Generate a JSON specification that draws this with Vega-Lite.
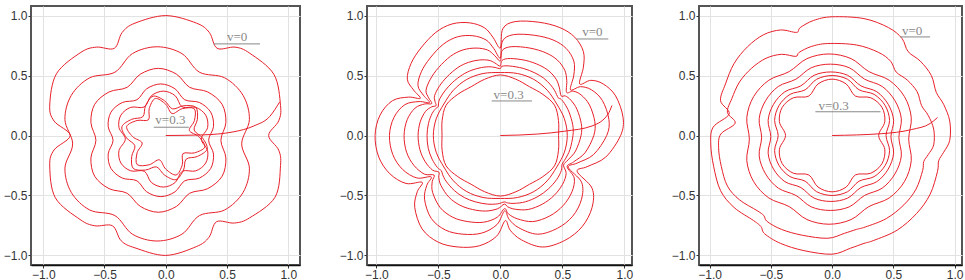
{
"$schema":"https://vega.github.io/schema/vega-lite/v6.json",
"padding":{"left":2,"top":5,"right":0,"bottom":0},
"background":"white",
"bounds":"flush",
"spacing":67,
"resolve":{"scale":{"x":"independent","y":"independent"}},
"config":{
"view":{"stroke":"#555","strokeWidth":2},
"axis":{"labelFont":"Liberation Sans","labelFontSize":12,"labelColor":"#333","tickColor":"#333","tickSize":3,"labelPadding":1,"gridColor":"#e2e2e2","gridWidth":1,"domain":false},
"axisY":{"minExtent":0,"maxExtent":25},
"axisX":{"domain":true,"domainColor":"#111","domainWidth":1.5}
},
"datasets":{
"rings":[
{"p":1,"k":"A","i":0,"x":0.84,"y":0},{"p":1,"k":"A","i":0.5,"x":0.922,"y":0.122},{"p":1,"k":"A","i":1,"x":0.937,"y":0.251},{"p":1,"k":"A","i":2,"x":0.883,"y":0.51},{"p":1,"k":"A","i":3,"x":0.686,"y":0.686},{"p":1,"k":"A","i":3.5,"x":0.566,"y":0.737},{"p":1,"k":"A","i":4,"x":0.42,"y":0.727},{"p":1,"k":"A","i":4.5,"x":0.356,"y":0.859},{"p":1,"k":"A","i":5,"x":0.251,"y":0.937},{"p":1,"k":"A","i":6,"x":0,"y":1.0},{"p":1,"k":"A","i":7,"x":-0.251,"y":0.937},{"p":1,"k":"A","i":7.5,"x":-0.356,"y":0.859},{"p":1,"k":"A","i":8,"x":-0.42,"y":0.727},{"p":1,"k":"A","i":8.5,"x":-0.566,"y":0.737},{"p":1,"k":"A","i":9,"x":-0.693,"y":0.693},{"p":1,"k":"A","i":10,"x":-0.892,"y":0.515},{"p":1,"k":"A","i":11,"x":-0.947,"y":0.254},{"p":1,"k":"A","i":11.5,"x":-0.912,"y":0.121},{"p":1,"k":"A","i":12,"x":-0.78,"y":0},{"p":1,"k":"A","i":12.5,"x":-0.912,"y":-0.121},{"p":1,"k":"A","i":13,"x":-0.947,"y":-0.254},{"p":1,"k":"A","i":14,"x":-0.901,"y":-0.52},{"p":1,"k":"A","i":15,"x":-0.7,"y":-0.7},{"p":1,"k":"A","i":15.5,"x":-0.579,"y":-0.753},{"p":1,"k":"A","i":16,"x":-0.435,"y":-0.753},{"p":1,"k":"A","i":16.5,"x":-0.364,"y":-0.878},{"p":1,"k":"A","i":17,"x":-0.251,"y":-0.937},{"p":1,"k":"A","i":18,"x":0,"y":-1.0},{"p":1,"k":"A","i":19,"x":0.249,"y":-0.927},{"p":1,"k":"A","i":19.5,"x":0.352,"y":-0.85},{"p":1,"k":"A","i":20,"x":0.415,"y":-0.719},{"p":1,"k":"A","i":20.5,"x":0.56,"y":-0.73},{"p":1,"k":"A","i":21,"x":0.686,"y":-0.686},{"p":1,"k":"A","i":22,"x":0.892,"y":-0.515},{"p":1,"k":"A","i":23,"x":0.937,"y":-0.251},{"p":1,"k":"A","i":23.5,"x":0.922,"y":-0.122},
{"p":1,"k":"B","i":0,"x":0.62,"y":-0.07},{"p":1,"k":"B","i":1,"x":0.683,"y":0.132},{"p":1,"k":"B","i":2,"x":0.631,"y":0.335},{"p":1,"k":"B","i":3,"x":0.481,"y":0.481},{"p":1,"k":"B","i":4,"x":0.275,"y":0.528},{"p":1,"k":"B","i":5,"x":0.132,"y":0.683},{"p":1,"k":"B","i":6,"x":-0.07,"y":0.74},{"p":1,"k":"B","i":7,"x":-0.272,"y":0.683},{"p":1,"k":"B","i":8,"x":-0.415,"y":0.528},{"p":1,"k":"B","i":9,"x":-0.621,"y":0.481},{"p":1,"k":"B","i":10,"x":-0.771,"y":0.335},{"p":1,"k":"B","i":11,"x":-0.823,"y":0.132},{"p":1,"k":"B","i":12,"x":-0.76,"y":-0.07},{"p":1,"k":"B","i":13,"x":-0.823,"y":-0.272},{"p":1,"k":"B","i":14,"x":-0.771,"y":-0.475},{"p":1,"k":"B","i":15,"x":-0.621,"y":-0.621},{"p":1,"k":"B","i":16,"x":-0.415,"y":-0.668},{"p":1,"k":"B","i":17,"x":-0.272,"y":-0.823},{"p":1,"k":"B","i":18,"x":-0.07,"y":-0.88},{"p":1,"k":"B","i":19,"x":0.132,"y":-0.823},{"p":1,"k":"B","i":20,"x":0.275,"y":-0.668},{"p":1,"k":"B","i":21,"x":0.481,"y":-0.621},{"p":1,"k":"B","i":22,"x":0.631,"y":-0.475},{"p":1,"k":"B","i":23,"x":0.683,"y":-0.272},
{"p":1,"k":"C","i":0,"x":0.45,"y":-0.04},{"p":1,"k":"C","i":1,"x":0.491,"y":0.108},{"p":1,"k":"C","i":2,"x":0.46,"y":0.26},{"p":1,"k":"C","i":3,"x":0.343,"y":0.363},{"p":1,"k":"C","i":4,"x":0.195,"y":0.402},{"p":1,"k":"C","i":5,"x":0.088,"y":0.511},{"p":1,"k":"C","i":6,"x":-0.06,"y":0.56},{"p":1,"k":"C","i":7,"x":-0.208,"y":0.511},{"p":1,"k":"C","i":8,"x":-0.315,"y":0.402},{"p":1,"k":"C","i":9,"x":-0.463,"y":0.363},{"p":1,"k":"C","i":10,"x":-0.58,"y":0.26},{"p":1,"k":"C","i":11,"x":-0.611,"y":0.108},{"p":1,"k":"C","i":12,"x":-0.57,"y":-0.04},{"p":1,"k":"C","i":13,"x":-0.611,"y":-0.188},{"p":1,"k":"C","i":14,"x":-0.58,"y":-0.34},{"p":1,"k":"C","i":15,"x":-0.463,"y":-0.443},{"p":1,"k":"C","i":16,"x":-0.315,"y":-0.482},{"p":1,"k":"C","i":17,"x":-0.208,"y":-0.591},{"p":1,"k":"C","i":18,"x":-0.06,"y":-0.64},{"p":1,"k":"C","i":19,"x":0.088,"y":-0.591},{"p":1,"k":"C","i":20,"x":0.195,"y":-0.482},{"p":1,"k":"C","i":21,"x":0.343,"y":-0.443},{"p":1,"k":"C","i":22,"x":0.46,"y":-0.34},{"p":1,"k":"C","i":23,"x":0.491,"y":-0.188},
{"p":1,"k":"D","i":0,"x":0.35,"y":-0.04},{"p":1,"k":"D","i":1,"x":0.39,"y":0.075},{"p":1,"k":"D","i":2,"x":0.367,"y":0.195},{"p":1,"k":"D","i":3,"x":0.275,"y":0.275},{"p":1,"k":"D","i":4,"x":0.155,"y":0.298},{"p":1,"k":"D","i":5,"x":0.075,"y":0.39},{"p":1,"k":"D","i":6,"x":-0.04,"y":0.43},{"p":1,"k":"D","i":7,"x":-0.155,"y":0.39},{"p":1,"k":"D","i":8,"x":-0.235,"y":0.298},{"p":1,"k":"D","i":9,"x":-0.355,"y":0.275},{"p":1,"k":"D","i":10,"x":-0.447,"y":0.195},{"p":1,"k":"D","i":11,"x":-0.47,"y":0.075},{"p":1,"k":"D","i":12,"x":-0.43,"y":-0.04},{"p":1,"k":"D","i":13,"x":-0.47,"y":-0.155},{"p":1,"k":"D","i":14,"x":-0.447,"y":-0.275},{"p":1,"k":"D","i":15,"x":-0.355,"y":-0.355},{"p":1,"k":"D","i":16,"x":-0.235,"y":-0.378},{"p":1,"k":"D","i":17,"x":-0.155,"y":-0.47},{"p":1,"k":"D","i":18,"x":-0.04,"y":-0.51},{"p":1,"k":"D","i":19,"x":0.075,"y":-0.47},{"p":1,"k":"D","i":20,"x":0.155,"y":-0.378},{"p":1,"k":"D","i":21,"x":0.275,"y":-0.355},{"p":1,"k":"D","i":22,"x":0.367,"y":-0.275},{"p":1,"k":"D","i":23,"x":0.39,"y":-0.155},
{"p":1,"k":"E","i":0,"x":0.29,"y":-0.03},{"p":1,"k":"E","i":1,"x":0.342,"y":0.067},{"p":1,"k":"E","i":2,"x":0.326,"y":0.17},{"p":1,"k":"E","i":3,"x":0.245,"y":0.235},{"p":1,"k":"E","i":4,"x":0.135,"y":0.238},{"p":1,"k":"E","i":5,"x":0.077,"y":0.332},{"p":1,"k":"E","i":6,"x":-0.02,"y":0.37},{"p":1,"k":"E","i":7,"x":-0.117,"y":0.332},{"p":1,"k":"E","i":8,"x":-0.175,"y":0.238},{"p":1,"k":"E","i":9,"x":-0.285,"y":0.235},{"p":1,"k":"E","i":10,"x":-0.366,"y":0.17},{"p":1,"k":"E","i":11,"x":-0.382,"y":0.067},{"p":1,"k":"E","i":12,"x":-0.33,"y":-0.03},{"p":1,"k":"E","i":13,"x":-0.382,"y":-0.127},{"p":1,"k":"E","i":14,"x":-0.366,"y":-0.23},{"p":1,"k":"E","i":15,"x":-0.285,"y":-0.295},{"p":1,"k":"E","i":16,"x":-0.175,"y":-0.298},{"p":1,"k":"E","i":17,"x":-0.117,"y":-0.392},{"p":1,"k":"E","i":18,"x":-0.02,"y":-0.43},{"p":1,"k":"E","i":19,"x":0.077,"y":-0.392},{"p":1,"k":"E","i":20,"x":0.135,"y":-0.298},{"p":1,"k":"E","i":21,"x":0.245,"y":-0.295},{"p":1,"k":"E","i":22,"x":0.326,"y":-0.23},{"p":1,"k":"E","i":23,"x":0.342,"y":-0.127},
{"p":1,"k":"F","i":0,"x":0.3,"y":-0.02},{"p":1,"k":"F","i":1,"x":0.232,"y":0.045},{"p":1,"k":"F","i":2,"x":0.258,"y":0.135},{"p":1,"k":"F","i":3,"x":0.245,"y":0.235},{"p":1,"k":"F","i":4,"x":0.145,"y":0.248},{"p":1,"k":"F","i":5,"x":0.055,"y":0.222},{"p":1,"k":"F","i":6,"x":-0.01,"y":0.29},{"p":1,"k":"F","i":7,"x":-0.103,"y":0.328},{"p":1,"k":"F","i":8,"x":-0.165,"y":0.248},{"p":1,"k":"F","i":9,"x":-0.187,"y":0.157},{"p":1,"k":"F","i":10,"x":-0.278,"y":0.135},{"p":1,"k":"F","i":11,"x":-0.358,"y":0.073},{"p":1,"k":"F","i":12,"x":-0.32,"y":-0.02},{"p":1,"k":"F","i":13,"x":-0.252,"y":-0.085},{"p":1,"k":"F","i":14,"x":-0.278,"y":-0.175},{"p":1,"k":"F","i":15,"x":-0.265,"y":-0.275},{"p":1,"k":"F","i":16,"x":-0.165,"y":-0.288},{"p":1,"k":"F","i":17,"x":-0.075,"y":-0.262},{"p":1,"k":"F","i":18,"x":-0.01,"y":-0.33},{"p":1,"k":"F","i":19,"x":0.083,"y":-0.368},{"p":1,"k":"F","i":20,"x":0.145,"y":-0.288},{"p":1,"k":"F","i":21,"x":0.167,"y":-0.197},{"p":1,"k":"F","i":22,"x":0.258,"y":-0.175},{"p":1,"k":"F","i":23,"x":0.338,"y":-0.113},
{"p":1,"k":"G","i":0,"x":0.27,"y":-0.01},{"p":1,"k":"G","i":1,"x":0.193,"y":0.042},{"p":1,"k":"G","i":2,"x":0.234,"y":0.125},{"p":1,"k":"G","i":3,"x":0.233,"y":0.223},{"p":1,"k":"G","i":4,"x":0.135,"y":0.224},{"p":1,"k":"G","i":5,"x":0.052,"y":0.183},{"p":1,"k":"G","i":6,"x":0,"y":0.26},{"p":1,"k":"G","i":7,"x":-0.085,"y":0.309},{"p":1,"k":"G","i":8,"x":-0.135,"y":0.224},{"p":1,"k":"G","i":9,"x":-0.141,"y":0.131},{"p":1,"k":"G","i":10,"x":-0.234,"y":0.125},{"p":1,"k":"G","i":11,"x":-0.319,"y":0.075},{"p":1,"k":"G","i":12,"x":-0.27,"y":-0.01},{"p":1,"k":"G","i":13,"x":-0.193,"y":-0.062},{"p":1,"k":"G","i":14,"x":-0.234,"y":-0.145},{"p":1,"k":"G","i":15,"x":-0.233,"y":-0.243},{"p":1,"k":"G","i":16,"x":-0.135,"y":-0.244},{"p":1,"k":"G","i":17,"x":-0.052,"y":-0.203},{"p":1,"k":"G","i":18,"x":0,"y":-0.28},{"p":1,"k":"G","i":19,"x":0.085,"y":-0.329},{"p":1,"k":"G","i":20,"x":0.135,"y":-0.244},{"p":1,"k":"G","i":21,"x":0.141,"y":-0.151},{"p":1,"k":"G","i":22,"x":0.234,"y":-0.145},{"p":1,"k":"G","i":23,"x":0.319,"y":-0.095},
{"p":2,"k":"A","i":1,"x":0.0,"y":0.73},{"p":2,"k":"A","i":2,"x":-0.06,"y":0.82},{"p":2,"k":"A","i":3,"x":-0.13,"y":0.9},{"p":2,"k":"A","i":4,"x":-0.25,"y":0.94},{"p":2,"k":"A","i":5,"x":-0.39,"y":0.93},{"p":2,"k":"A","i":6,"x":-0.52,"y":0.86},{"p":2,"k":"A","i":7,"x":-0.64,"y":0.73},{"p":2,"k":"A","i":8,"x":-0.72,"y":0.6},{"p":2,"k":"A","i":9,"x":-0.75,"y":0.47},{"p":2,"k":"A","i":10,"x":-0.7,"y":0.38},{"p":2,"k":"A","i":11,"x":-0.645,"y":0.31},{"p":2,"k":"A","i":12,"x":-0.74,"y":0.32},{"p":2,"k":"A","i":13,"x":-0.87,"y":0.29},{"p":2,"k":"A","i":14,"x":-0.97,"y":0.17},{"p":2,"k":"A","i":15,"x":-1.01,"y":0.0},{"p":2,"k":"A","i":16,"x":-0.98,"y":-0.18},{"p":2,"k":"A","i":17,"x":-0.89,"y":-0.32},{"p":2,"k":"A","i":18,"x":-0.76,"y":-0.4},{"p":2,"k":"A","i":19,"x":-0.63,"y":-0.39},{"p":2,"k":"A","i":20,"x":-0.67,"y":-0.47},{"p":2,"k":"A","i":21,"x":-0.69,"y":-0.6},{"p":2,"k":"A","i":22,"x":-0.63,"y":-0.78},{"p":2,"k":"A","i":23,"x":-0.5,"y":-0.89},{"p":2,"k":"A","i":24,"x":-0.34,"y":-0.93},{"p":2,"k":"A","i":25,"x":-0.17,"y":-0.92},{"p":2,"k":"A","i":26,"x":-0.03,"y":-0.84},{"p":2,"k":"A","i":27,"x":0.04,"y":-0.71},{"p":2,"k":"A","i":28,"x":0.08,"y":-0.79},{"p":2,"k":"A","i":29,"x":0.17,"y":-0.87},{"p":2,"k":"A","i":30,"x":0.34,"y":-0.93},{"p":2,"k":"A","i":31,"x":0.52,"y":-0.875},{"p":2,"k":"A","i":32,"x":0.66,"y":-0.76},{"p":2,"k":"A","i":33,"x":0.74,"y":-0.6},{"p":2,"k":"A","i":34,"x":0.74,"y":-0.44},{"p":2,"k":"A","i":35,"x":0.62,"y":-0.3},{"p":2,"k":"A","i":36,"x":0.7,"y":-0.26},{"p":2,"k":"A","i":37,"x":0.85,"y":-0.18},{"p":2,"k":"A","i":38,"x":0.97,"y":0.0},{"p":2,"k":"A","i":39,"x":0.99,"y":0.15},{"p":2,"k":"A","i":40,"x":0.93,"y":0.33},{"p":2,"k":"A","i":41,"x":0.83,"y":0.43},{"p":2,"k":"A","i":42,"x":0.73,"y":0.46},{"p":2,"k":"A","i":43,"x":0.64,"y":0.43},{"p":2,"k":"A","i":44,"x":0.67,"y":0.57},{"p":2,"k":"A","i":45,"x":0.67,"y":0.7},{"p":2,"k":"A","i":46,"x":0.6,"y":0.82},{"p":2,"k":"A","i":47,"x":0.48,"y":0.9},{"p":2,"k":"A","i":48,"x":0.31,"y":0.945},{"p":2,"k":"A","i":49,"x":0.12,"y":0.95},{"p":2,"k":"A","i":50,"x":0.02,"y":0.89},
{"p":2,"k":"B","i":1,"x":0.0,"y":0.646},{"p":2,"k":"B","i":2,"x":-0.053,"y":0.726},{"p":2,"k":"B","i":3,"x":-0.115,"y":0.797},{"p":2,"k":"B","i":4,"x":-0.221,"y":0.832},{"p":2,"k":"B","i":5,"x":-0.345,"y":0.823},{"p":2,"k":"B","i":6,"x":-0.46,"y":0.761},{"p":2,"k":"B","i":7,"x":-0.566,"y":0.646},{"p":2,"k":"B","i":8,"x":-0.637,"y":0.531},{"p":2,"k":"B","i":9,"x":-0.664,"y":0.416},{"p":2,"k":"B","i":10,"x":-0.62,"y":0.336},{"p":2,"k":"B","i":11,"x":-0.571,"y":0.274},{"p":2,"k":"B","i":12,"x":-0.655,"y":0.283},{"p":2,"k":"B","i":13,"x":-0.77,"y":0.257},{"p":2,"k":"B","i":14,"x":-0.858,"y":0.15},{"p":2,"k":"B","i":15,"x":-0.894,"y":0.0},{"p":2,"k":"B","i":16,"x":-0.867,"y":-0.159},{"p":2,"k":"B","i":17,"x":-0.788,"y":-0.283},{"p":2,"k":"B","i":18,"x":-0.673,"y":-0.354},{"p":2,"k":"B","i":19,"x":-0.558,"y":-0.345},{"p":2,"k":"B","i":20,"x":-0.593,"y":-0.416},{"p":2,"k":"B","i":21,"x":-0.611,"y":-0.531},{"p":2,"k":"B","i":22,"x":-0.558,"y":-0.69},{"p":2,"k":"B","i":23,"x":-0.443,"y":-0.788},{"p":2,"k":"B","i":24,"x":-0.301,"y":-0.823},{"p":2,"k":"B","i":25,"x":-0.15,"y":-0.814},{"p":2,"k":"B","i":26,"x":-0.027,"y":-0.743},{"p":2,"k":"B","i":27,"x":0.035,"y":-0.628},{"p":2,"k":"B","i":28,"x":0.071,"y":-0.699},{"p":2,"k":"B","i":29,"x":0.15,"y":-0.77},{"p":2,"k":"B","i":30,"x":0.301,"y":-0.823},{"p":2,"k":"B","i":31,"x":0.46,"y":-0.774},{"p":2,"k":"B","i":32,"x":0.584,"y":-0.673},{"p":2,"k":"B","i":33,"x":0.655,"y":-0.531},{"p":2,"k":"B","i":34,"x":0.655,"y":-0.389},{"p":2,"k":"B","i":35,"x":0.549,"y":-0.266},{"p":2,"k":"B","i":36,"x":0.62,"y":-0.23},{"p":2,"k":"B","i":37,"x":0.752,"y":-0.159},{"p":2,"k":"B","i":38,"x":0.858,"y":0.0},{"p":2,"k":"B","i":39,"x":0.876,"y":0.133},{"p":2,"k":"B","i":40,"x":0.823,"y":0.292},{"p":2,"k":"B","i":41,"x":0.735,"y":0.381},{"p":2,"k":"B","i":42,"x":0.646,"y":0.407},{"p":2,"k":"B","i":43,"x":0.566,"y":0.381},{"p":2,"k":"B","i":44,"x":0.593,"y":0.504},{"p":2,"k":"B","i":45,"x":0.593,"y":0.62},{"p":2,"k":"B","i":46,"x":0.531,"y":0.726},{"p":2,"k":"B","i":47,"x":0.425,"y":0.797},{"p":2,"k":"B","i":48,"x":0.274,"y":0.836},{"p":2,"k":"B","i":49,"x":0.106,"y":0.841},{"p":2,"k":"B","i":50,"x":0.018,"y":0.788},
{"p":2,"k":"C","i":1,"x":0,"y":0.622},{"p":2,"k":"C","i":2,"x":-0.049,"y":0.67},{"p":2,"k":"C","i":3,"x":-0.103,"y":0.713},{"p":2,"k":"C","i":4,"x":-0.194,"y":0.729},{"p":2,"k":"C","i":5,"x":-0.3,"y":0.714},{"p":2,"k":"C","i":6,"x":-0.4,"y":0.662},{"p":2,"k":"C","i":7,"x":-0.497,"y":0.567},{"p":2,"k":"C","i":8,"x":-0.564,"y":0.47},{"p":2,"k":"C","i":9,"x":-0.599,"y":0.375},{"p":2,"k":"C","i":10,"x":-0.578,"y":0.314},{"p":2,"k":"C","i":11,"x":-0.553,"y":0.266},{"p":2,"k":"C","i":12,"x":-0.609,"y":0.263},{"p":2,"k":"C","i":13,"x":-0.687,"y":0.229},{"p":2,"k":"C","i":14,"x":-0.751,"y":0.132},{"p":2,"k":"C","i":15,"x":-0.776,"y":0},{"p":2,"k":"C","i":16,"x":-0.756,"y":-0.139},{"p":2,"k":"C","i":17,"x":-0.696,"y":-0.25},{"p":2,"k":"C","i":18,"x":-0.612,"y":-0.322},{"p":2,"k":"C","i":19,"x":-0.534,"y":-0.33},{"p":2,"k":"C","i":20,"x":-0.549,"y":-0.385},{"p":2,"k":"C","i":21,"x":-0.546,"y":-0.474},{"p":2,"k":"C","i":22,"x":-0.485,"y":-0.601},{"p":2,"k":"C","i":23,"x":-0.383,"y":-0.682},{"p":2,"k":"C","i":24,"x":-0.262,"y":-0.718},{"p":2,"k":"C","i":25,"x":-0.134,"y":-0.723},{"p":2,"k":"C","i":26,"x":-0.025,"y":-0.682},{"p":2,"k":"C","i":27,"x":0.034,"y":-0.61},{"p":2,"k":"C","i":28,"x":0.066,"y":-0.654},{"p":2,"k":"C","i":29,"x":0.136,"y":-0.694},{"p":2,"k":"C","i":30,"x":0.262,"y":-0.718},{"p":2,"k":"C","i":31,"x":0.399,"y":-0.671},{"p":2,"k":"C","i":32,"x":0.507,"y":-0.584},{"p":2,"k":"C","i":33,"x":0.578,"y":-0.469},{"p":2,"k":"C","i":34,"x":0.596,"y":-0.355},{"p":2,"k":"C","i":35,"x":0.539,"y":-0.261},{"p":2,"k":"C","i":36,"x":0.591,"y":-0.22},{"p":2,"k":"C","i":37,"x":0.683,"y":-0.144},{"p":2,"k":"C","i":38,"x":0.754,"y":0},{"p":2,"k":"C","i":39,"x":0.762,"y":0.116},{"p":2,"k":"C","i":40,"x":0.719,"y":0.255},{"p":2,"k":"C","i":41,"x":0.652,"y":0.338},{"p":2,"k":"C","i":42,"x":0.588,"y":0.37},{"p":2,"k":"C","i":43,"x":0.535,"y":0.359},{"p":2,"k":"C","i":44,"x":0.536,"y":0.456},{"p":2,"k":"C","i":45,"x":0.52,"y":0.544},{"p":2,"k":"C","i":46,"x":0.46,"y":0.629},{"p":2,"k":"C","i":47,"x":0.368,"y":0.689},{"p":2,"k":"C","i":48,"x":0.239,"y":0.729},{"p":2,"k":"C","i":49,"x":0.093,"y":0.741},{"p":2,"k":"C","i":50,"x":0.016,"y":0.71},
{"p":2,"k":"D","i":1,"x":0,"y":0.579},{"p":2,"k":"D","i":2,"x":-0.044,"y":0.605},{"p":2,"k":"D","i":3,"x":-0.091,"y":0.627},{"p":2,"k":"D","i":4,"x":-0.168,"y":0.63},{"p":2,"k":"D","i":5,"x":-0.256,"y":0.61},{"p":2,"k":"D","i":6,"x":-0.342,"y":0.567},{"p":2,"k":"D","i":7,"x":-0.429,"y":0.49},{"p":2,"k":"D","i":8,"x":-0.492,"y":0.41},{"p":2,"k":"D","i":9,"x":-0.53,"y":0.332},{"p":2,"k":"D","i":10,"x":-0.527,"y":0.286},{"p":2,"k":"D","i":11,"x":-0.518,"y":0.249},{"p":2,"k":"D","i":12,"x":-0.553,"y":0.239},{"p":2,"k":"D","i":13,"x":-0.603,"y":0.201},{"p":2,"k":"D","i":14,"x":-0.646,"y":0.113},{"p":2,"k":"D","i":15,"x":-0.663,"y":0},{"p":2,"k":"D","i":16,"x":-0.648,"y":-0.119},{"p":2,"k":"D","i":17,"x":-0.606,"y":-0.218},{"p":2,"k":"D","i":18,"x":-0.547,"y":-0.288},{"p":2,"k":"D","i":19,"x":-0.495,"y":-0.306},{"p":2,"k":"D","i":20,"x":-0.496,"y":-0.348},{"p":2,"k":"D","i":21,"x":-0.479,"y":-0.416},{"p":2,"k":"D","i":22,"x":-0.415,"y":-0.514},{"p":2,"k":"D","i":23,"x":-0.326,"y":-0.581},{"p":2,"k":"D","i":24,"x":-0.225,"y":-0.617},{"p":2,"k":"D","i":25,"x":-0.117,"y":-0.63},{"p":2,"k":"D","i":26,"x":-0.022,"y":-0.611},{"p":2,"k":"D","i":27,"x":0.032,"y":-0.572},{"p":2,"k":"D","i":28,"x":0.06,"y":-0.595},{"p":2,"k":"D","i":29,"x":0.12,"y":-0.615},{"p":2,"k":"D","i":30,"x":0.225,"y":-0.617},{"p":2,"k":"D","i":31,"x":0.34,"y":-0.572},{"p":2,"k":"D","i":32,"x":0.434,"y":-0.5},{"p":2,"k":"D","i":33,"x":0.502,"y":-0.407},{"p":2,"k":"D","i":34,"x":0.531,"y":-0.316},{"p":2,"k":"D","i":35,"x":0.51,"y":-0.247},{"p":2,"k":"D","i":36,"x":0.547,"y":-0.203},{"p":2,"k":"D","i":37,"x":0.607,"y":-0.129},{"p":2,"k":"D","i":38,"x":0.651,"y":0},{"p":2,"k":"D","i":39,"x":0.653,"y":0.099},{"p":2,"k":"D","i":40,"x":0.618,"y":0.219},{"p":2,"k":"D","i":41,"x":0.569,"y":0.295},{"p":2,"k":"D","i":42,"x":0.524,"y":0.33},{"p":2,"k":"D","i":43,"x":0.491,"y":0.33},{"p":2,"k":"D","i":44,"x":0.475,"y":0.404},{"p":2,"k":"D","i":45,"x":0.45,"y":0.47},{"p":2,"k":"D","i":46,"x":0.393,"y":0.537},{"p":2,"k":"D","i":47,"x":0.314,"y":0.587},{"p":2,"k":"D","i":48,"x":0.206,"y":0.626},{"p":2,"k":"D","i":49,"x":0.081,"y":0.642},{"p":2,"k":"D","i":50,"x":0.014,"y":0.627},
{"p":2,"k":"E","i":1,"x":0,"y":0.558},{"p":2,"k":"E","i":2,"x":-0.042,"y":0.567},{"p":2,"k":"E","i":3,"x":-0.083,"y":0.573},{"p":2,"k":"E","i":4,"x":-0.151,"y":0.567},{"p":2,"k":"E","i":5,"x":-0.229,"y":0.545},{"p":2,"k":"E","i":6,"x":-0.306,"y":0.506},{"p":2,"k":"E","i":7,"x":-0.387,"y":0.441},{"p":2,"k":"E","i":8,"x":-0.447,"y":0.372},{"p":2,"k":"E","i":9,"x":-0.488,"y":0.306},{"p":2,"k":"E","i":10,"x":-0.498,"y":0.27},{"p":2,"k":"E","i":11,"x":-0.501,"y":0.241},{"p":2,"k":"E","i":12,"x":-0.52,"y":0.225},{"p":2,"k":"E","i":13,"x":-0.55,"y":0.183},{"p":2,"k":"E","i":14,"x":-0.579,"y":0.102},{"p":2,"k":"E","i":15,"x":-0.591,"y":0},{"p":2,"k":"E","i":16,"x":-0.581,"y":-0.107},{"p":2,"k":"E","i":17,"x":-0.55,"y":-0.197},{"p":2,"k":"E","i":18,"x":-0.507,"y":-0.267},{"p":2,"k":"E","i":19,"x":-0.475,"y":-0.294},{"p":2,"k":"E","i":20,"x":-0.465,"y":-0.327},{"p":2,"k":"E","i":21,"x":-0.438,"y":-0.38},{"p":2,"k":"E","i":22,"x":-0.371,"y":-0.459},{"p":2,"k":"E","i":23,"x":-0.291,"y":-0.517},{"p":2,"k":"E","i":24,"x":-0.202,"y":-0.553},{"p":2,"k":"E","i":25,"x":-0.106,"y":-0.572},{"p":2,"k":"E","i":26,"x":-0.021,"y":-0.57},{"p":2,"k":"E","i":27,"x":0.031,"y":-0.554},{"p":2,"k":"E","i":28,"x":0.057,"y":-0.562},{"p":2,"k":"E","i":29,"x":0.111,"y":-0.566},{"p":2,"k":"E","i":30,"x":0.202,"y":-0.553},{"p":2,"k":"E","i":31,"x":0.303,"y":-0.509},{"p":2,"k":"E","i":32,"x":0.387,"y":-0.446},{"p":2,"k":"E","i":33,"x":0.454,"y":-0.368},{"p":2,"k":"E","i":34,"x":0.492,"y":-0.293},{"p":2,"k":"E","i":35,"x":0.498,"y":-0.241},{"p":2,"k":"E","i":36,"x":0.525,"y":-0.195},{"p":2,"k":"E","i":37,"x":0.561,"y":-0.119},{"p":2,"k":"E","i":38,"x":0.586,"y":0},{"p":2,"k":"E","i":39,"x":0.584,"y":0.089},{"p":2,"k":"E","i":40,"x":0.554,"y":0.196},{"p":2,"k":"E","i":41,"x":0.517,"y":0.268},{"p":2,"k":"E","i":42,"x":0.486,"y":0.306},{"p":2,"k":"E","i":43,"x":0.467,"y":0.314},{"p":2,"k":"E","i":44,"x":0.439,"y":0.373},{"p":2,"k":"E","i":45,"x":0.405,"y":0.423},{"p":2,"k":"E","i":46,"x":0.35,"y":0.478},{"p":2,"k":"E","i":47,"x":0.279,"y":0.522},{"p":2,"k":"E","i":48,"x":0.184,"y":0.56},{"p":2,"k":"E","i":49,"x":0.073,"y":0.58},{"p":2,"k":"E","i":50,"x":0.013,"y":0.577},
{"p":2,"k":"F","i":0,"x":0.54,"y":0},{"p":2,"k":"F","i":1,"x":0.517,"y":0.139},{"p":2,"k":"F","i":2,"x":0.455,"y":0.263},{"p":2,"k":"F","i":3,"x":0.378,"y":0.378},{"p":2,"k":"F","i":4,"x":0.27,"y":0.468},{"p":2,"k":"F","i":5,"x":0.139,"y":0.517},{"p":2,"k":"F","i":6,"x":0,"y":0.525},{"p":2,"k":"F","i":7,"x":-0.139,"y":0.517},{"p":2,"k":"F","i":8,"x":-0.27,"y":0.468},{"p":2,"k":"F","i":9,"x":-0.378,"y":0.378},{"p":2,"k":"F","i":10,"x":-0.455,"y":0.263},{"p":2,"k":"F","i":11,"x":-0.517,"y":0.139},{"p":2,"k":"F","i":12,"x":-0.54,"y":0},{"p":2,"k":"F","i":13,"x":-0.517,"y":-0.139},{"p":2,"k":"F","i":14,"x":-0.455,"y":-0.263},{"p":2,"k":"F","i":15,"x":-0.378,"y":-0.378},{"p":2,"k":"F","i":16,"x":-0.27,"y":-0.468},{"p":2,"k":"F","i":17,"x":-0.139,"y":-0.517},{"p":2,"k":"F","i":18,"x":0,"y":-0.525},{"p":2,"k":"F","i":19,"x":0.139,"y":-0.517},{"p":2,"k":"F","i":20,"x":0.27,"y":-0.468},{"p":2,"k":"F","i":21,"x":0.378,"y":-0.378},{"p":2,"k":"F","i":22,"x":0.455,"y":-0.263},{"p":2,"k":"F","i":23,"x":0.517,"y":-0.139},
{"p":2,"k":"G","i":0,"x":0.47,"y":0},{"p":2,"k":"G","i":1,"x":0.469,"y":0.126},{"p":2,"k":"G","i":2,"x":0.437,"y":0.253},{"p":2,"k":"G","i":3,"x":0.343,"y":0.343},{"p":2,"k":"G","i":4,"x":0.235,"y":0.407},{"p":2,"k":"G","i":5,"x":0.126,"y":0.469},{"p":2,"k":"G","i":6,"x":0,"y":0.505},{"p":2,"k":"G","i":7,"x":-0.126,"y":0.469},{"p":2,"k":"G","i":8,"x":-0.235,"y":0.407},{"p":2,"k":"G","i":9,"x":-0.343,"y":0.343},{"p":2,"k":"G","i":10,"x":-0.437,"y":0.253},{"p":2,"k":"G","i":11,"x":-0.469,"y":0.126},{"p":2,"k":"G","i":12,"x":-0.47,"y":0},{"p":2,"k":"G","i":13,"x":-0.469,"y":-0.126},{"p":2,"k":"G","i":14,"x":-0.437,"y":-0.253},{"p":2,"k":"G","i":15,"x":-0.343,"y":-0.343},{"p":2,"k":"G","i":16,"x":-0.235,"y":-0.407},{"p":2,"k":"G","i":17,"x":-0.126,"y":-0.469},{"p":2,"k":"G","i":18,"x":0,"y":-0.505},{"p":2,"k":"G","i":19,"x":0.126,"y":-0.469},{"p":2,"k":"G","i":20,"x":0.235,"y":-0.407},{"p":2,"k":"G","i":21,"x":0.343,"y":-0.343},{"p":2,"k":"G","i":22,"x":0.437,"y":-0.253},{"p":2,"k":"G","i":23,"x":0.469,"y":-0.126},
{"p":3,"k":"A","i":1,"x":0.96,"y":-0.04},{"p":3,"k":"A","i":2,"x":0.96,"y":0.12},{"p":3,"k":"A","i":3,"x":0.91,"y":0.26},{"p":3,"k":"A","i":4,"x":0.85,"y":0.36},{"p":3,"k":"A","i":5,"x":0.81,"y":0.5},{"p":3,"k":"A","i":6,"x":0.72,"y":0.62},{"p":3,"k":"A","i":7,"x":0.62,"y":0.7},{"p":3,"k":"A","i":8,"x":0.57,"y":0.81},{"p":3,"k":"A","i":9,"x":0.46,"y":0.9},{"p":3,"k":"A","i":10,"x":0.26,"y":0.975},{"p":3,"k":"A","i":11,"x":0.0,"y":0.99},{"p":3,"k":"A","i":12,"x":-0.15,"y":0.96},{"p":3,"k":"A","i":13,"x":-0.26,"y":0.9},{"p":3,"k":"A","i":14,"x":-0.29,"y":0.86},{"p":3,"k":"A","i":15,"x":-0.42,"y":0.88},{"p":3,"k":"A","i":16,"x":-0.56,"y":0.84},{"p":3,"k":"A","i":17,"x":-0.69,"y":0.74},{"p":3,"k":"A","i":18,"x":-0.8,"y":0.6},{"p":3,"k":"A","i":19,"x":-0.87,"y":0.43},{"p":3,"k":"A","i":20,"x":-0.91,"y":0.29},{"p":3,"k":"A","i":21,"x":-0.84,"y":0.18},{"p":3,"k":"A","i":22,"x":-0.97,"y":0.07},{"p":3,"k":"A","i":23,"x":-0.99,"y":-0.07},{"p":3,"k":"A","i":24,"x":-0.966,"y":-0.26},{"p":3,"k":"A","i":25,"x":-0.91,"y":-0.46},{"p":3,"k":"A","i":26,"x":-0.8,"y":-0.6},{"p":3,"k":"A","i":27,"x":-0.64,"y":-0.71},{"p":3,"k":"A","i":28,"x":-0.58,"y":-0.76},{"p":3,"k":"A","i":29,"x":-0.55,"y":-0.82},{"p":3,"k":"A","i":30,"x":-0.42,"y":-0.9},{"p":3,"k":"A","i":31,"x":-0.23,"y":-0.96},{"p":3,"k":"A","i":32,"x":0.0,"y":-0.99},{"p":3,"k":"A","i":33,"x":0.15,"y":-0.94},{"p":3,"k":"A","i":34,"x":0.26,"y":-0.9},{"p":3,"k":"A","i":35,"x":0.34,"y":-0.875},{"p":3,"k":"A","i":36,"x":0.53,"y":-0.79},{"p":3,"k":"A","i":37,"x":0.69,"y":-0.65},{"p":3,"k":"A","i":38,"x":0.8,"y":-0.49},{"p":3,"k":"A","i":39,"x":0.86,"y":-0.3},{"p":3,"k":"A","i":40,"x":0.87,"y":-0.21},{"p":3,"k":"A","i":41,"x":0.91,"y":-0.14},
{"p":3,"k":"B","i":1,"x":0.829,"y":-0.078},{"p":3,"k":"B","i":2,"x":0.829,"y":0.053},{"p":3,"k":"B","i":3,"x":0.784,"y":0.168},{"p":3,"k":"B","i":4,"x":0.73,"y":0.25},{"p":3,"k":"B","i":5,"x":0.694,"y":0.365},{"p":3,"k":"B","i":6,"x":0.613,"y":0.463},{"p":3,"k":"B","i":7,"x":0.523,"y":0.529},{"p":3,"k":"B","i":8,"x":0.478,"y":0.619},{"p":3,"k":"B","i":9,"x":0.379,"y":0.693},{"p":3,"k":"B","i":10,"x":0.199,"y":0.755},{"p":3,"k":"B","i":11,"x":-0.035,"y":0.767},{"p":3,"k":"B","i":12,"x":-0.17,"y":0.742},{"p":3,"k":"B","i":13,"x":-0.269,"y":0.693},{"p":3,"k":"B","i":14,"x":-0.296,"y":0.66},{"p":3,"k":"B","i":15,"x":-0.413,"y":0.677},{"p":3,"k":"B","i":16,"x":-0.539,"y":0.644},{"p":3,"k":"B","i":17,"x":-0.656,"y":0.562},{"p":3,"k":"B","i":18,"x":-0.755,"y":0.447},{"p":3,"k":"B","i":19,"x":-0.818,"y":0.308},{"p":3,"k":"B","i":20,"x":-0.854,"y":0.193},{"p":3,"k":"B","i":21,"x":-0.791,"y":0.103},{"p":3,"k":"B","i":22,"x":-0.908,"y":0.012},{"p":3,"k":"B","i":23,"x":-0.926,"y":-0.102},{"p":3,"k":"B","i":24,"x":-0.904,"y":-0.258},{"p":3,"k":"B","i":25,"x":-0.854,"y":-0.422},{"p":3,"k":"B","i":26,"x":-0.755,"y":-0.537},{"p":3,"k":"B","i":27,"x":-0.611,"y":-0.627},{"p":3,"k":"B","i":28,"x":-0.557,"y":-0.668},{"p":3,"k":"B","i":29,"x":-0.53,"y":-0.717},{"p":3,"k":"B","i":30,"x":-0.413,"y":-0.783},{"p":3,"k":"B","i":31,"x":-0.242,"y":-0.832},{"p":3,"k":"B","i":32,"x":-0.035,"y":-0.857},{"p":3,"k":"B","i":33,"x":0.1,"y":-0.816},{"p":3,"k":"B","i":34,"x":0.199,"y":-0.783},{"p":3,"k":"B","i":35,"x":0.271,"y":-0.763},{"p":3,"k":"B","i":36,"x":0.442,"y":-0.693},{"p":3,"k":"B","i":37,"x":0.586,"y":-0.578},{"p":3,"k":"B","i":38,"x":0.685,"y":-0.447},{"p":3,"k":"B","i":39,"x":0.739,"y":-0.291},{"p":3,"k":"B","i":40,"x":0.748,"y":-0.217},{"p":3,"k":"B","i":41,"x":0.784,"y":-0.16},
{"p":3,"k":"C","i":0,"x":0.625,"y":-0.03},{"p":3,"k":"C","i":1,"x":0.646,"y":0.15},{"p":3,"k":"C","i":2,"x":0.59,"y":0.325},{"p":3,"k":"C","i":3,"x":0.466,"y":0.461},{"p":3,"k":"C","i":4,"x":0.3,"y":0.533},{"p":3,"k":"C","i":5,"x":0.155,"y":0.641},{"p":3,"k":"C","i":6,"x":-0.025,"y":0.68},{"p":3,"k":"C","i":7,"x":-0.205,"y":0.641},{"p":3,"k":"C","i":8,"x":-0.35,"y":0.533},{"p":3,"k":"C","i":9,"x":-0.516,"y":0.461},{"p":3,"k":"C","i":10,"x":-0.64,"y":0.325},{"p":3,"k":"C","i":11,"x":-0.696,"y":0.15},{"p":3,"k":"C","i":12,"x":-0.675,"y":-0.03},{"p":3,"k":"C","i":13,"x":-0.696,"y":-0.21},{"p":3,"k":"C","i":14,"x":-0.64,"y":-0.385},{"p":3,"k":"C","i":15,"x":-0.516,"y":-0.521},{"p":3,"k":"C","i":16,"x":-0.35,"y":-0.593},{"p":3,"k":"C","i":17,"x":-0.205,"y":-0.701},{"p":3,"k":"C","i":18,"x":-0.025,"y":-0.74},{"p":3,"k":"C","i":19,"x":0.155,"y":-0.701},{"p":3,"k":"C","i":20,"x":0.3,"y":-0.593},{"p":3,"k":"C","i":21,"x":0.466,"y":-0.521},{"p":3,"k":"C","i":22,"x":0.59,"y":-0.385},{"p":3,"k":"C","i":23,"x":0.646,"y":-0.21},
{"p":3,"k":"D","i":0,"x":0.545,"y":-0.015},{"p":3,"k":"D","i":1,"x":0.565,"y":0.14},{"p":3,"k":"D","i":2,"x":0.513,"y":0.29},{"p":3,"k":"D","i":3,"x":0.409,"y":0.409},{"p":3,"k":"D","i":4,"x":0.265,"y":0.47},{"p":3,"k":"D","i":5,"x":0.14,"y":0.565},{"p":3,"k":"D","i":6,"x":-0.015,"y":0.595},{"p":3,"k":"D","i":7,"x":-0.17,"y":0.565},{"p":3,"k":"D","i":8,"x":-0.295,"y":0.47},{"p":3,"k":"D","i":9,"x":-0.439,"y":0.409},{"p":3,"k":"D","i":10,"x":-0.543,"y":0.29},{"p":3,"k":"D","i":11,"x":-0.595,"y":0.14},{"p":3,"k":"D","i":12,"x":-0.575,"y":-0.015},{"p":3,"k":"D","i":13,"x":-0.595,"y":-0.17},{"p":3,"k":"D","i":14,"x":-0.543,"y":-0.32},{"p":3,"k":"D","i":15,"x":-0.439,"y":-0.439},{"p":3,"k":"D","i":16,"x":-0.295,"y":-0.5},{"p":3,"k":"D","i":17,"x":-0.17,"y":-0.595},{"p":3,"k":"D","i":18,"x":-0.015,"y":-0.625},{"p":3,"k":"D","i":19,"x":0.14,"y":-0.595},{"p":3,"k":"D","i":20,"x":0.265,"y":-0.5},{"p":3,"k":"D","i":21,"x":0.409,"y":-0.439},{"p":3,"k":"D","i":22,"x":0.513,"y":-0.32},{"p":3,"k":"D","i":23,"x":0.565,"y":-0.17},
{"p":3,"k":"E","i":0,"x":0.48,"y":-0.01},{"p":3,"k":"E","i":1,"x":0.502,"y":0.127},{"p":3,"k":"E","i":2,"x":0.458,"y":0.26},{"p":3,"k":"E","i":3,"x":0.365,"y":0.365},{"p":3,"k":"E","i":4,"x":0.235,"y":0.414},{"p":3,"k":"E","i":5,"x":0.127,"y":0.502},{"p":3,"k":"E","i":6,"x":-0.01,"y":0.53},{"p":3,"k":"E","i":7,"x":-0.147,"y":0.502},{"p":3,"k":"E","i":8,"x":-0.255,"y":0.414},{"p":3,"k":"E","i":9,"x":-0.385,"y":0.365},{"p":3,"k":"E","i":10,"x":-0.478,"y":0.26},{"p":3,"k":"E","i":11,"x":-0.522,"y":0.127},{"p":3,"k":"E","i":12,"x":-0.5,"y":-0.01},{"p":3,"k":"E","i":13,"x":-0.522,"y":-0.147},{"p":3,"k":"E","i":14,"x":-0.478,"y":-0.28},{"p":3,"k":"E","i":15,"x":-0.385,"y":-0.385},{"p":3,"k":"E","i":16,"x":-0.255,"y":-0.434},{"p":3,"k":"E","i":17,"x":-0.147,"y":-0.522},{"p":3,"k":"E","i":18,"x":-0.01,"y":-0.55},{"p":3,"k":"E","i":19,"x":0.127,"y":-0.522},{"p":3,"k":"E","i":20,"x":0.235,"y":-0.434},{"p":3,"k":"E","i":21,"x":0.365,"y":-0.385},{"p":3,"k":"E","i":22,"x":0.458,"y":-0.28},{"p":3,"k":"E","i":23,"x":0.502,"y":-0.147},
{"p":3,"k":"F","i":0,"x":0.44,"y":0},{"p":3,"k":"F","i":1,"x":0.469,"y":0.126},{"p":3,"k":"F","i":2,"x":0.433,"y":0.25},{"p":3,"k":"F","i":3,"x":0.343,"y":0.343},{"p":3,"k":"F","i":4,"x":0.22,"y":0.381},{"p":3,"k":"F","i":5,"x":0.126,"y":0.469},{"p":3,"k":"F","i":6,"x":0,"y":0.5},{"p":3,"k":"F","i":7,"x":-0.126,"y":0.469},{"p":3,"k":"F","i":8,"x":-0.22,"y":0.381},{"p":3,"k":"F","i":9,"x":-0.343,"y":0.343},{"p":3,"k":"F","i":10,"x":-0.433,"y":0.25},{"p":3,"k":"F","i":11,"x":-0.469,"y":0.126},{"p":3,"k":"F","i":12,"x":-0.44,"y":0},{"p":3,"k":"F","i":13,"x":-0.469,"y":-0.126},{"p":3,"k":"F","i":14,"x":-0.433,"y":-0.25},{"p":3,"k":"F","i":15,"x":-0.343,"y":-0.343},{"p":3,"k":"F","i":16,"x":-0.22,"y":-0.381},{"p":3,"k":"F","i":17,"x":-0.126,"y":-0.469},{"p":3,"k":"F","i":18,"x":0,"y":-0.5},{"p":3,"k":"F","i":19,"x":0.126,"y":-0.469},{"p":3,"k":"F","i":20,"x":0.22,"y":-0.381},{"p":3,"k":"F","i":21,"x":0.343,"y":-0.343},{"p":3,"k":"F","i":22,"x":0.433,"y":-0.25},{"p":3,"k":"F","i":23,"x":0.469,"y":-0.126},
{"p":3,"k":"G","i":0,"x":0.38,"y":0},{"p":3,"k":"G","i":1,"x":0.43,"y":0.115},{"p":3,"k":"G","i":2,"x":0.407,"y":0.235},{"p":3,"k":"G","i":3,"x":0.315,"y":0.315},{"p":3,"k":"G","i":4,"x":0.19,"y":0.329},{"p":3,"k":"G","i":5,"x":0.115,"y":0.43},{"p":3,"k":"G","i":6,"x":0,"y":0.47},{"p":3,"k":"G","i":7,"x":-0.115,"y":0.43},{"p":3,"k":"G","i":8,"x":-0.19,"y":0.329},{"p":3,"k":"G","i":9,"x":-0.315,"y":0.315},{"p":3,"k":"G","i":10,"x":-0.407,"y":0.235},{"p":3,"k":"G","i":11,"x":-0.43,"y":0.115},{"p":3,"k":"G","i":12,"x":-0.38,"y":0},{"p":3,"k":"G","i":13,"x":-0.43,"y":-0.115},{"p":3,"k":"G","i":14,"x":-0.407,"y":-0.235},{"p":3,"k":"G","i":15,"x":-0.315,"y":-0.315},{"p":3,"k":"G","i":16,"x":-0.19,"y":-0.329},{"p":3,"k":"G","i":17,"x":-0.115,"y":-0.43},{"p":3,"k":"G","i":18,"x":0,"y":-0.47},{"p":3,"k":"G","i":19,"x":0.115,"y":-0.43},{"p":3,"k":"G","i":20,"x":0.19,"y":-0.329},{"p":3,"k":"G","i":21,"x":0.315,"y":-0.315},{"p":3,"k":"G","i":22,"x":0.407,"y":-0.235},{"p":3,"k":"G","i":23,"x":0.43,"y":-0.115}
],
"rays":[
{"p":1,"i":0,"x":0,"y":0},{"p":1,"i":1,"x":0.3,"y":0.005},{"p":1,"i":2,"x":0.55,"y":0.03},{"p":1,"i":3,"x":0.72,"y":0.08},{"p":1,"i":4,"x":0.85,"y":0.16},{"p":1,"i":5,"x":0.93,"y":0.28},
{"p":2,"i":0,"x":0,"y":0},{"p":2,"i":1,"x":0.3,"y":0.012},{"p":2,"i":2,"x":0.52,"y":0.036},{"p":2,"i":3,"x":0.74,"y":0.08},{"p":2,"i":4,"x":0.87,"y":0.18},{"p":2,"i":5,"x":0.9,"y":0.25},
{"p":3,"i":0,"x":0,"y":0},{"p":3,"i":1,"x":0.4,"y":0.015},{"p":3,"i":2,"x":0.65,"y":0.05},{"p":3,"i":3,"x":0.8,"y":0.1},{"p":3,"i":4,"x":0.86,"y":0.15}
],
"leaders":[
{"p":1,"x":0.39,"x2":0.77,"y":0.764},{"p":1,"x":-0.098,"x2":0.188,"y":0.069},
{"p":2,"x":0.615,"x2":0.871,"y":0.805},{"p":2,"x":-0.07,"x2":0.255,"y":0.288},
{"p":3,"x":0.556,"x2":0.8,"y":0.822},{"p":3,"x":-0.136,"x2":0.395,"y":0.198}
],
"labels":[
{"p":1,"t":"v=0","x":0.5,"y":0.79},{"p":1,"t":"v=0.3","x":-0.085,"y":0.092},
{"p":2,"t":"v=0","x":0.66,"y":0.83},{"p":2,"t":"v=0.3","x":-0.054,"y":0.302},
{"p":3,"t":"v=0","x":0.57,"y":0.835},{"p":3,"t":"v=0.3","x":-0.11,"y":0.21}
]
},
"hconcat":[
{"width":269,"height":259,
"encoding":{
"x":{"field":"x","type":"quantitative","scale":{"domain":[-1.1,1.096],"nice":false,"zero":false},"axis":{"values":[-1,-0.5,0,0.5,1],"format":".1f","title":null}},
"y":{"field":"y","type":"quantitative","scale":{"domain":[-1.08,1.08],"nice":false,"zero":false},"axis":{"values":[-1,-0.5,0,0.5,1],"format":".1f","title":null,"minExtent":0,"maxExtent":25}}},
"layer":[
{"data":{"name":"rings"},"transform":[{"filter":"datum.p==1"}],"mark":{"type":"line","interpolate":"cardinal-closed","color":"#e8202a"},"encoding":{"detail":{"field":"k"},"order":{"field":"i","type":"quantitative"},"strokeWidth":{"field":"k","type":"nominal","scale":{"domain":["A","B","C","D","E","F","G"],"range":[1,1,1,1,1,1.2,1.8]},"legend":null}}},
{"data":{"name":"rays"},"transform":[{"filter":"datum.p==1"}],"mark":{"type":"line","interpolate":"monotone","color":"#e8202a","strokeWidth":1},"encoding":{"order":{"field":"i","type":"quantitative"}}},
{"data":{"name":"leaders"},"transform":[{"filter":"datum.p==1"}],"mark":{"type":"rule","color":"#888","strokeWidth":1},"encoding":{"x2":{"field":"x2"}}},
{"data":{"name":"labels"},"transform":[{"filter":"datum.p==1"}],"mark":{"type":"text","font":"Liberation Serif","fontSize":13,"color":"#888","align":"left","baseline":"alphabetic"},"encoding":{"text":{"field":"t"}}}
]},
{"width":265,"height":259,
"encoding":{
"x":{"field":"x","type":"quantitative","scale":{"domain":[-1.075,1.062],"nice":false,"zero":false},"axis":{"values":[-1,-0.5,0,0.5,1],"format":".1f","title":null}},
"y":{"field":"y","type":"quantitative","scale":{"domain":[-1.08,1.08],"nice":false,"zero":false},"axis":{"values":[-1,-0.5,0,0.5,1],"format":".1f","title":null,"minExtent":0,"maxExtent":25}}},
"layer":[
{"data":{"name":"rings"},"transform":[{"filter":"datum.p==2"}],"mark":{"type":"line","interpolate":"cardinal-closed","color":"#e8202a"},"encoding":{"detail":{"field":"k"},"order":{"field":"i","type":"quantitative"},"strokeWidth":{"field":"k","type":"nominal","scale":{"domain":["A","B","C","D","E","F","G"],"range":[1,1,1,1,1,1.2,1.8]},"legend":null}}},
{"data":{"name":"rays"},"transform":[{"filter":"datum.p==2"}],"mark":{"type":"line","interpolate":"monotone","color":"#e8202a","strokeWidth":1},"encoding":{"order":{"field":"i","type":"quantitative"}}},
{"data":{"name":"leaders"},"transform":[{"filter":"datum.p==2"}],"mark":{"type":"rule","color":"#888","strokeWidth":1},"encoding":{"x2":{"field":"x2"}}},
{"data":{"name":"labels"},"transform":[{"filter":"datum.p==2"}],"mark":{"type":"text","font":"Liberation Serif","fontSize":13,"color":"#888","align":"left","baseline":"alphabetic"},"encoding":{"text":{"field":"t"}}}
]},
{"width":263,"height":259,
"encoding":{
"x":{"field":"x","type":"quantitative","scale":{"domain":[-1.086,1.06],"nice":false,"zero":false},"axis":{"values":[-1,-0.5,0,0.5,1],"format":".1f","title":null}},
"y":{"field":"y","type":"quantitative","scale":{"domain":[-1.08,1.08],"nice":false,"zero":false},"axis":{"values":[-1,-0.5,0,0.5,1],"format":".1f","title":null,"minExtent":0,"maxExtent":25}}},
"layer":[
{"data":{"name":"rings"},"transform":[{"filter":"datum.p==3"}],"mark":{"type":"line","interpolate":"cardinal-closed","color":"#e8202a"},"encoding":{"detail":{"field":"k"},"order":{"field":"i","type":"quantitative"},"strokeWidth":{"field":"k","type":"nominal","scale":{"domain":["A","B","C","D","E","F","G"],"range":[1,1,1,1,1,1.2,1.8]},"legend":null}}},
{"data":{"name":"rays"},"transform":[{"filter":"datum.p==3"}],"mark":{"type":"line","interpolate":"monotone","color":"#e8202a","strokeWidth":1},"encoding":{"order":{"field":"i","type":"quantitative"}}},
{"data":{"name":"leaders"},"transform":[{"filter":"datum.p==3"}],"mark":{"type":"rule","color":"#888","strokeWidth":1},"encoding":{"x2":{"field":"x2"}}},
{"data":{"name":"labels"},"transform":[{"filter":"datum.p==3"}],"mark":{"type":"text","font":"Liberation Serif","fontSize":13,"color":"#888","align":"left","baseline":"alphabetic"},"encoding":{"text":{"field":"t"}}}
]}
]
}
